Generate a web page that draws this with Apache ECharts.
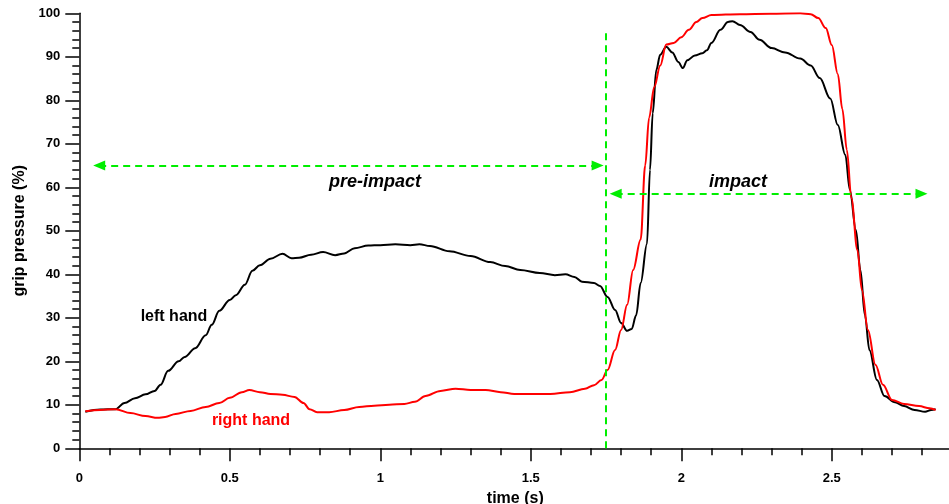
<!DOCTYPE html>
<html>
<head>
<meta charset="utf-8">
<script src="https://cdn.jsdelivr.net/npm/echarts@6/dist/echarts.min.js"></script>
<style>html,body{margin:0;padding:0;background:#fff;overflow:hidden}#c{width:949px;height:504px}</style>
</head>
<body>
<div id="c"></div>
<script>
// ---- data (time in s, grip pressure in %) ----
var leftTime = [0.02,0.07,0.12,0.15,0.185,0.22,0.25,0.27,0.295,0.33,0.35,0.385,0.42,0.44,0.465,0.5,0.52,0.55,0.575,0.6,0.635,0.675,0.705,0.73,0.77,0.81,0.85,0.88,0.915,0.96,1.0,1.05,1.1,1.13,1.165,1.23,1.3,1.365,1.415,1.465,1.53,1.58,1.615,1.645,1.67,1.71,1.73,1.755,1.78,1.8,1.82,1.835,1.85,1.865,1.886,1.896,1.905,1.917,1.93,1.95,1.97,1.99,2.005,2.02,2.045,2.07,2.085,2.1,2.13,2.155,2.17,2.195,2.23,2.26,2.3,2.345,2.395,2.43,2.46,2.495,2.52,2.545,2.56,2.58,2.595,2.61,2.625,2.65,2.675,2.71,2.74,2.775,2.81,2.83,2.845];
var leftPressure = [8.4,8.9,9.0,10.4,11.5,12.4,13.2,14.6,17.8,20.0,21.0,23.0,26.0,28.4,31.6,34.1,35.2,37.6,40.8,42.1,43.6,44.7,43.7,43.8,44.5,45.1,44.4,44.8,46.0,46.6,46.7,46.9,46.7,46.9,46.5,45.3,44.2,42.8,41.9,41.0,40.3,39.8,40.0,39.4,38.3,38.0,37.3,34.8,31.8,28.8,27.0,27.4,30.6,38.0,47.0,64.0,77.0,87.0,90.5,92.3,91.0,88.8,87.4,89.2,90.3,90.8,91.5,93.2,96.2,98.0,98.2,97.3,95.7,93.9,92.0,91.0,89.6,88.0,85.1,80.4,74.3,67.4,59.4,50.2,41.0,30.6,22.6,15.7,12.0,10.6,9.7,8.8,8.4,8.8,9.0];
var rightTime = [0.02,0.07,0.12,0.17,0.22,0.26,0.285,0.32,0.37,0.42,0.465,0.5,0.54,0.565,0.6,0.635,0.675,0.715,0.745,0.765,0.79,0.83,0.88,0.93,0.98,1.03,1.08,1.115,1.15,1.2,1.25,1.3,1.35,1.4,1.445,1.5,1.565,1.63,1.68,1.71,1.735,1.755,1.78,1.8,1.82,1.84,1.865,1.88,1.893,1.91,1.93,1.95,1.975,2.0,2.025,2.05,2.07,2.1,2.195,2.295,2.395,2.43,2.455,2.48,2.5,2.52,2.535,2.55,2.565,2.585,2.6,2.62,2.645,2.67,2.7,2.74,2.79,2.825,2.845];
var rightPressure = [8.5,8.8,9.0,8.1,7.4,7.0,7.2,7.9,8.6,9.5,10.4,11.6,12.9,13.4,12.9,12.5,12.3,11.8,10.4,9.0,8.3,8.3,8.8,9.5,9.8,10.0,10.2,10.7,12.0,13.2,13.7,13.4,13.4,12.9,12.5,12.5,12.5,12.9,13.7,14.5,15.7,18.0,22.6,27.2,33.0,41.0,48.0,65.0,76.0,83.0,88.0,92.8,93.2,94.5,96.2,98.0,98.9,99.6,99.8,99.9,100.0,99.8,98.9,96.6,92.7,86.0,78.0,68.6,57.5,45.6,36.4,27.2,19.2,14.6,11.1,10.2,9.7,9.2,8.8];
var seriesNames = ['left hand', 'right hand'];
// annotations: impact time line and phase arrows [t0, t1, level]
var impactTime = 1.75, impactLineTop = 96;
var preImpactArrow = [0.066, 1.722, 65];
var impactArrow = [1.782, 2.798, 58.5];
var phaseLabels = ['pre-impact', 'impact'];
var xTicks = { min: 0, max: 3, interval: 0.5 };
var yTicks = { min: 0, max: 100, interval: 10 };

function pairs(xs, ys) { return xs.map(function (x, i) { return [x, ys[i]]; }); }

var FONT = '"Liberation Sans", Arial, sans-serif';
var GREEN = '#00ee00';
var chart = echarts.init(document.getElementById('c'), null, { renderer: 'canvas' });
chart.setOption({
  animation: false,
  backgroundColor: '#fff',
  grid: { left: 79.3, top: 13.3, width: 903, height: 435, containLabel: false, outerBoundsMode: 'none' },
  xAxis: {
    type: 'value', min: xTicks.min, max: xTicks.max, interval: xTicks.interval,
    name: 'time (s)', nameLocation: 'middle', nameGap: 35,
    nameTextStyle: { fontFamily: FONT, fontWeight: 'bold', fontSize: 16, color: '#000', padding: [0, 31, 0, 0] },
    axisLine: { onZero: false, lineStyle: { color: '#000', width: 1.5 } },
    axisTick: { length: 13, lineStyle: { color: '#000', width: 1.5 } },
    minorTick: { show: true, splitNumber: 5, length: 7, lineStyle: { color: '#000', width: 1.5 } },
    axisLabel: { fontFamily: FONT, fontWeight: 'bold', fontSize: 13, color: '#000', margin: 24, showMaxLabel: false },
    splitLine: { show: false }
  },
  yAxis: {
    type: 'value', min: yTicks.min, max: yTicks.max, interval: yTicks.interval,
    name: 'grip pressure (%)', nameLocation: 'middle', nameGap: 52,
    nameTextStyle: { fontFamily: FONT, fontWeight: 'bold', fontSize: 16, color: '#000' },
    axisLine: { show: true, onZero: false, lineStyle: { color: '#000', width: 1.5 } },
    axisTick: { show: true, length: 14, lineStyle: { color: '#000', width: 1.5 } },
    minorTick: { show: true, splitNumber: 5, length: 7, lineStyle: { color: '#000', width: 1.5 } },
    axisLabel: { fontFamily: FONT, fontWeight: 'bold', fontSize: 13, color: '#000', margin: 19 },
    splitLine: { show: false }
  },
  series: [
    {
      name: seriesNames[0], type: 'line', data: pairs(leftTime, leftPressure),
      showSymbol: false, smooth: 0.35, smoothMonotone: 'x',
      lineStyle: { color: '#000', width: 2 }, itemStyle: { color: '#000' }, z: 3,
      markLine: {
        silent: true, animation: false, symbol: ['none', 'none'],
        lineStyle: { color: GREEN, width: 2, type: [7, 5] }, label: { show: false },
        data: [[{ coord: [impactTime, 0] }, { coord: [impactTime, impactLineTop] }]]
      }
    },
    {
      name: seriesNames[1], type: 'line', data: pairs(rightTime, rightPressure),
      showSymbol: false, smooth: 0.35, smoothMonotone: 'x',
      lineStyle: { color: '#ff0000', width: 2 }, itemStyle: { color: '#ff0000' }, z: 4,
      markLine: {
        silent: true, animation: false, symbol: ['triangle', 'triangle'], symbolSize: [10, 12],
        lineStyle: { color: GREEN, width: 2, type: [7, 5] }, itemStyle: { color: GREEN },
        label: { show: false },
        data: [
          [{ coord: [preImpactArrow[0], preImpactArrow[2]] }, { coord: [preImpactArrow[1], preImpactArrow[2]] }],
          [{ coord: [impactArrow[0], impactArrow[2]] }, { coord: [impactArrow[1], impactArrow[2]] }]
        ]
      }
    }
  ],
  graphic: [
    { type: 'text', x: 375, y: 182, z: 10, style: { text: phaseLabels[0], fontFamily: FONT, fontWeight: 'bold', fontStyle: 'italic', fontSize: 18, fill: '#000', align: 'center', verticalAlign: 'middle' } },
    { type: 'text', x: 738, y: 182, z: 10, style: { text: phaseLabels[1], fontFamily: FONT, fontWeight: 'bold', fontStyle: 'italic', fontSize: 18, fill: '#000', align: 'center', verticalAlign: 'middle' } },
    { type: 'text', x: 174, y: 317, z: 10, style: { text: seriesNames[0], fontFamily: FONT, fontWeight: 'bold', fontSize: 16, fill: '#000', align: 'center', verticalAlign: 'middle' } },
    { type: 'text', x: 251, y: 421, z: 10, style: { text: seriesNames[1], fontFamily: FONT, fontWeight: 'bold', fontSize: 16, fill: '#ff0000', align: 'center', verticalAlign: 'middle' } }
  ]
});
</script>
</body>
</html>
